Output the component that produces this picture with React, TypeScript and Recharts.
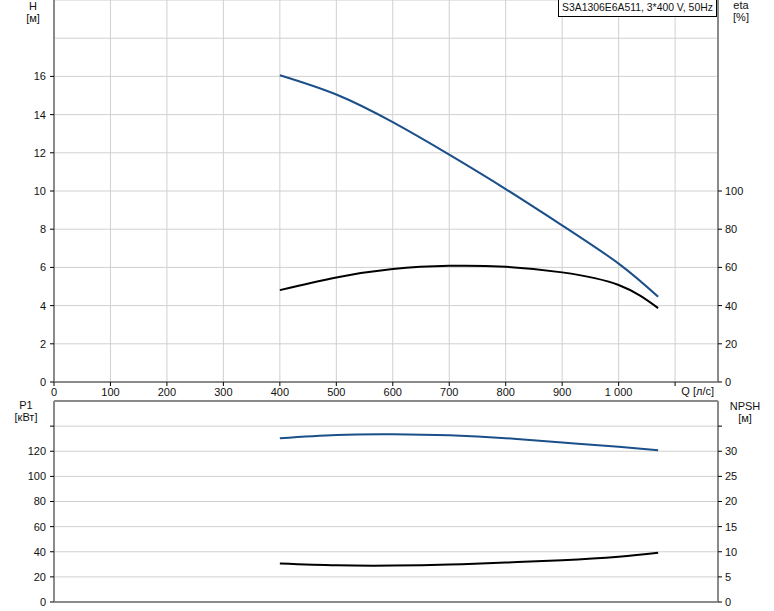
import React from "react";
import {
  ComposedChart,
  Line,
  XAxis,
  YAxis,
  CartesianGrid,
  ReferenceLine,
} from "recharts";

// Débit Q [л/с] des points
const qPoints = [400, 500, 600, 700, 800, 900, 1000, 1070];
// Courbes du haut
const headH = [16.06, 15.05, 13.6, 11.9, 10.1, 8.2, 6.2, 4.46];
const effEta = [48.1, 54.7, 59.1, 60.8, 60.3, 57.4, 50.8, 38.7];
// Courbes du bas
const powerP1 = [130.4, 133.0, 133.5, 132.7, 130.4, 126.9, 123.5, 120.8];
const npshM = [7.65, 7.3, 7.25, 7.45, 7.85, 8.3, 9.0, 9.8];

// Graduations
const qTicks = [0, 100, 200, 300, 400, 500, 600, 700, 800, 900, 1000, 1100];
const hTicks = [0, 2, 4, 6, 8, 10, 12, 14, 16];
const etaTicks = [0, 20, 40, 60, 80, 100];
const p1Ticks = [0, 20, 40, 60, 80, 100, 120, 140];
const npshTicks = [0, 5, 10, 15, 20, 25, 30, 35];

const legendText = "S3A1306E6A511, 3*400 V, 50Hz";

const FONT = '"Liberation Sans", Arial, sans-serif';
const GRID = "#d0d0d0";
const AXIS = "#8a8a8a";
const BLUE = "#1b4f8a";
const tickStyle = { fill: "#111", fontSize: 11, fontFamily: FONT };

const topData = qPoints.map((q, i) => ({ q, h: headH[i], eta: effEta[i] }));
const bottomData = qPoints.map((q, i) => ({
  q,
  p1: powerP1[i],
  npsh: npshM[i],
}));

const fmtQ = (v: number) =>
  v === 1100 ? "" : v >= 1000 ? `${Math.floor(v / 1000)} ${String(v % 1000).padStart(3, "0")}` : String(v);

const label = (
  text: string,
  left: number,
  top: number,
  align: "center" | "right" = "center",
  width = 60
): React.ReactNode => (
  <div
    style={{
      position: "absolute",
      left,
      top,
      width,
      textAlign: align,
      fontSize: 11,
      lineHeight: "12px",
      fontFamily: FONT,
      color: "#111",
      whiteSpace: "nowrap",
    }}
  >
    {text}
  </div>
);

export default function App() {
  return (
    <div
      style={{
        position: "absolute",
        left: 0,
        top: 0,
        width: 774,
        height: 611,
        background: "#fff",
        overflow: "hidden",
      }}
    >
      {/* Graphique du haut : H et eta */}
      <div style={{ position: "absolute", left: 0, top: 0 }}>
        <ComposedChart
          width={774}
          height={400}
          data={topData}
          margin={{ top: 0, right: 0, left: 0, bottom: 0 }}
        >
          <CartesianGrid yAxisId="h" stroke={GRID} />
          <XAxis
            dataKey="q"
            type="number"
            domain={[0, 1176]}
            ticks={qTicks}
            tickFormatter={fmtQ}
            height={18}
            tickSize={4}
            tickMargin={2}
            tick={tickStyle}
            axisLine={{ stroke: AXIS, strokeWidth: 2 }}
            tickLine={{ stroke: "#000" }}
            allowDataOverflow
          />
          <YAxis
            yAxisId="h"
            orientation="left"
            domain={[0, 20]}
            ticks={hTicks}
            width={54}
            tickSize={4}
            tickMargin={4}
            tick={tickStyle}
            axisLine={{ stroke: AXIS, strokeWidth: 2 }}
            tickLine={{ stroke: "#000" }}
          />
          <YAxis
            yAxisId="eta"
            orientation="right"
            domain={[0, 200]}
            ticks={etaTicks}
            width={56}
            tickSize={4}
            tickMargin={3}
            tick={tickStyle}
            axisLine={{ stroke: AXIS, strokeWidth: 2 }}
            tickLine={{ stroke: "#000" }}
          />
          <ReferenceLine yAxisId="h" y={18} stroke={GRID} />
          <Line
            yAxisId="h"
            dataKey="h"
            type="natural"
            stroke={BLUE}
            strokeWidth={2}
            dot={false}
            isAnimationActive={false}
          />
          <Line
            yAxisId="eta"
            dataKey="eta"
            type="natural"
            stroke="#000"
            strokeWidth={2}
            dot={false}
            isAnimationActive={false}
          />
        </ComposedChart>
      </div>

      {/* Graphique du bas : P1 et NPSH */}
      <div style={{ position: "absolute", left: 0, top: 400 }}>
        <ComposedChart
          width={774}
          height={211}
          data={bottomData}
          margin={{ top: 1, right: 0, left: 0, bottom: 0 }}
        >
          <CartesianGrid yAxisId="p1" stroke={GRID} />
          <XAxis
            dataKey="q"
            type="number"
            domain={[0, 1176]}
            ticks={qTicks}
            height={9}
            tick={false}
            tickLine={false}
            axisLine={{ stroke: AXIS, strokeWidth: 2 }}
            allowDataOverflow
          />
          <YAxis
            yAxisId="p1"
            orientation="left"
            domain={[0, 160]}
            ticks={p1Ticks}
            tickFormatter={(v: number) => (v === 140 ? "" : String(v))}
            width={54}
            tickSize={4}
            tickMargin={4}
            tick={tickStyle}
            axisLine={{ stroke: AXIS, strokeWidth: 2 }}
            tickLine={{ stroke: "#000" }}
          />
          <YAxis
            yAxisId="npsh"
            orientation="right"
            domain={[0, 40]}
            ticks={npshTicks}
            tickFormatter={(v: number) => (v === 35 ? "" : String(v))}
            width={56}
            tickSize={4}
            tickMargin={3}
            tick={tickStyle}
            axisLine={{ stroke: AXIS, strokeWidth: 2 }}
            tickLine={{ stroke: "#000" }}
          />
          <ReferenceLine yAxisId="p1" y={160} stroke={AXIS} strokeWidth={2} />
          <Line
            yAxisId="p1"
            dataKey="p1"
            type="natural"
            stroke={BLUE}
            strokeWidth={2}
            dot={false}
            isAnimationActive={false}
          />
          <Line
            yAxisId="npsh"
            dataKey="npsh"
            type="natural"
            stroke="#000"
            strokeWidth={2}
            dot={false}
            isAnimationActive={false}
          />
        </ComposedChart>
      </div>

      {/* Titres des axes */}
      {label("H", 3, 0)}
      {label("[м]", 3, 12)}
      {label("eta", 711, -1)}
      {label("[%]", 711, 11)}
      {label("Q [л/с]", 634, 385, "right", 80)}
      {label("P1", -4, 399)}
      {label("[кВт]", -4, 411)}
      {label("NPSH", 715, 400)}
      {label("[м]", 715, 412)}

      {/* Légende */}
      <div
        style={{
          position: "absolute",
          left: 558,
          top: -1,
          width: 157,
          height: 16,
          border: "1px solid #000",
          background: "#fff",
          fontSize: 10.4,
          lineHeight: "16px",
          fontFamily: FONT,
          textAlign: "center",
          whiteSpace: "nowrap",
          color: "#111",
        }}
      >
        {legendText}
      </div>
    </div>
  );
}
